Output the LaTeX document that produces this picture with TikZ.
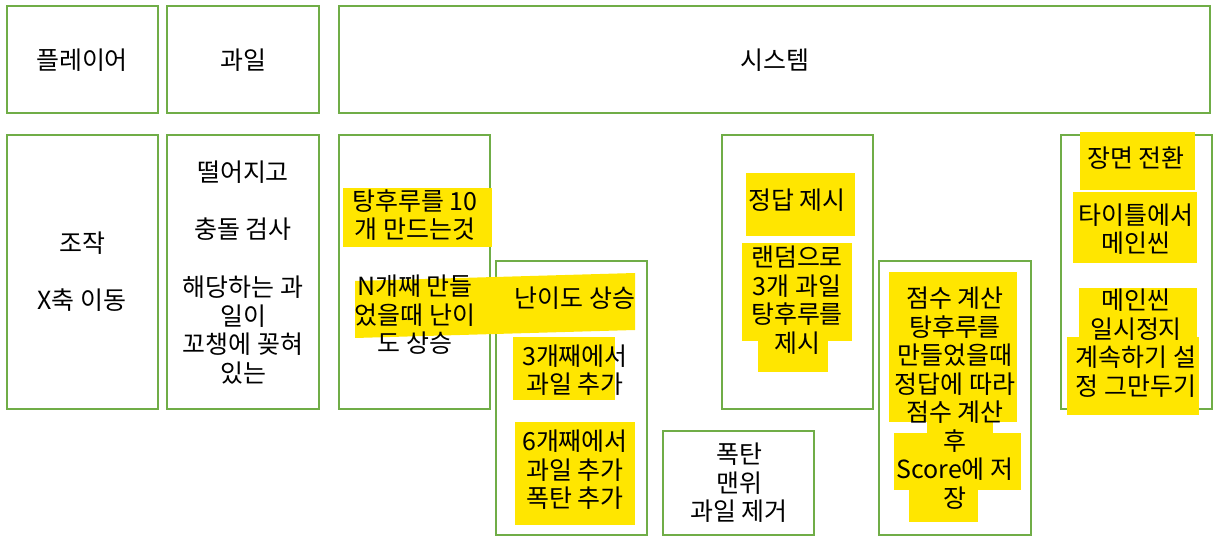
\documentclass[tikz,border=0pt]{standalone}
\usepackage{fontspec}
\setmainfont{Noto Sans CJK KR}
\definecolor{boxgreen}{RGB}{112,173,71}
\definecolor{marker}{RGB}{255,230,0}

\begin{document}
\begin{tikzpicture}[x=0.03cm,y=-0.03cm,
    cell/.style={draw=boxgreen,line width=0.9pt},
    hl/.style={fill=marker},
    txt/.style={align=center,inner sep=0pt,font=\fontsize{21.3}{24.3}\selectfont}]
        \useasboundingbox (0,0) rectangle (1223,544);
        % boxes
        \foreach \a/\b/\c/\d in {7/6/158/113,167/6/319/113,339/6/1210/113,
            7/135/158/409,167/135/319/409,339/135/490/409,496/261/647/535,
            663/431/814/535,722/135/873/409,879/261/1031/535,1061/135/1212/409}
          \draw[cell] (\a,\b) rectangle (\c,\d);
        % marker strokes
        \foreach \a/\b/\c/\d in {343/188/492/247,513/337/615/400,515/422/635/525,
            746/173/855/236,742/243/852/341,758/341/828/372,
            889/272/1017/422,927/420/993/435,894/433/1021/490,909/490/978/522,
            1080/132/1195/190,1073/192/1197/263,1079/288/1197/337,1067/337/1199/415}
          \fill[hl] (\a,\b) rectangle (\c,\d);
        \fill[hl] (355,281) -- (635,273) -- (635,330) -- (355,338) -- cycle;
        % headers
        \node[txt] (player) at (82,60) {플레이어};
        \node[txt] (fruit) at (243,60) {과일};
        \node[txt] (system) at (775,60) {시스템};
        % player
        \node[txt] (ctrl) at (82,243) {조작};
        \node[txt] (move) at (82,300) {X축 이동};
        % fruit
        \node[txt] (fall) at (243,172) {떨어지고};
        \node[txt] (hit) at (243,229) {충돌 검사};
        \node[txt] (stick) at (243,330) {해당하는 과\\일이\\꼬챙에 꽂혀\\있는};
        % system
        \node[txt] (goal) at (415,215) {탕후루를 10\\개 만드는것};
        \node[txt] (level) at (415,315) {N개째 만들\\었을때 난이\\도 상승};
        \node[txt] (up) at (575,298) {난이도 상승};
        \node[txt] (three) at (575,370) {3개째에서\\과일 추가};
        \node[txt] (six) at (575,470) {6개째에서\\과일 추가\\폭탄 추가};
        \node[txt] (bomb) at (739,483) {폭탄\\맨위\\과일 제거};
        \node[txt] (answer) at (797,200) {정답 제시};
        \node[txt] (random) at (797,300) {랜덤으로\\3개 과일\\탕후루를\\제시};
        \node[txt] (score) at (955,398) {점수 계산\\탕후루를\\만들었을때\\정답에 따라\\점수 계산\\후\\Score에 저\\장};
        \node[txt] (scene) at (1136,158) {장면 전환};
        \node[txt] (title) at (1136,229) {타이틀에서\\메인씬};
        \node[txt] (pause) at (1136,343) {메인씬\\일시정지\\계속하기 설\\정 그만두기};
      \end{tikzpicture}
\end{document}
